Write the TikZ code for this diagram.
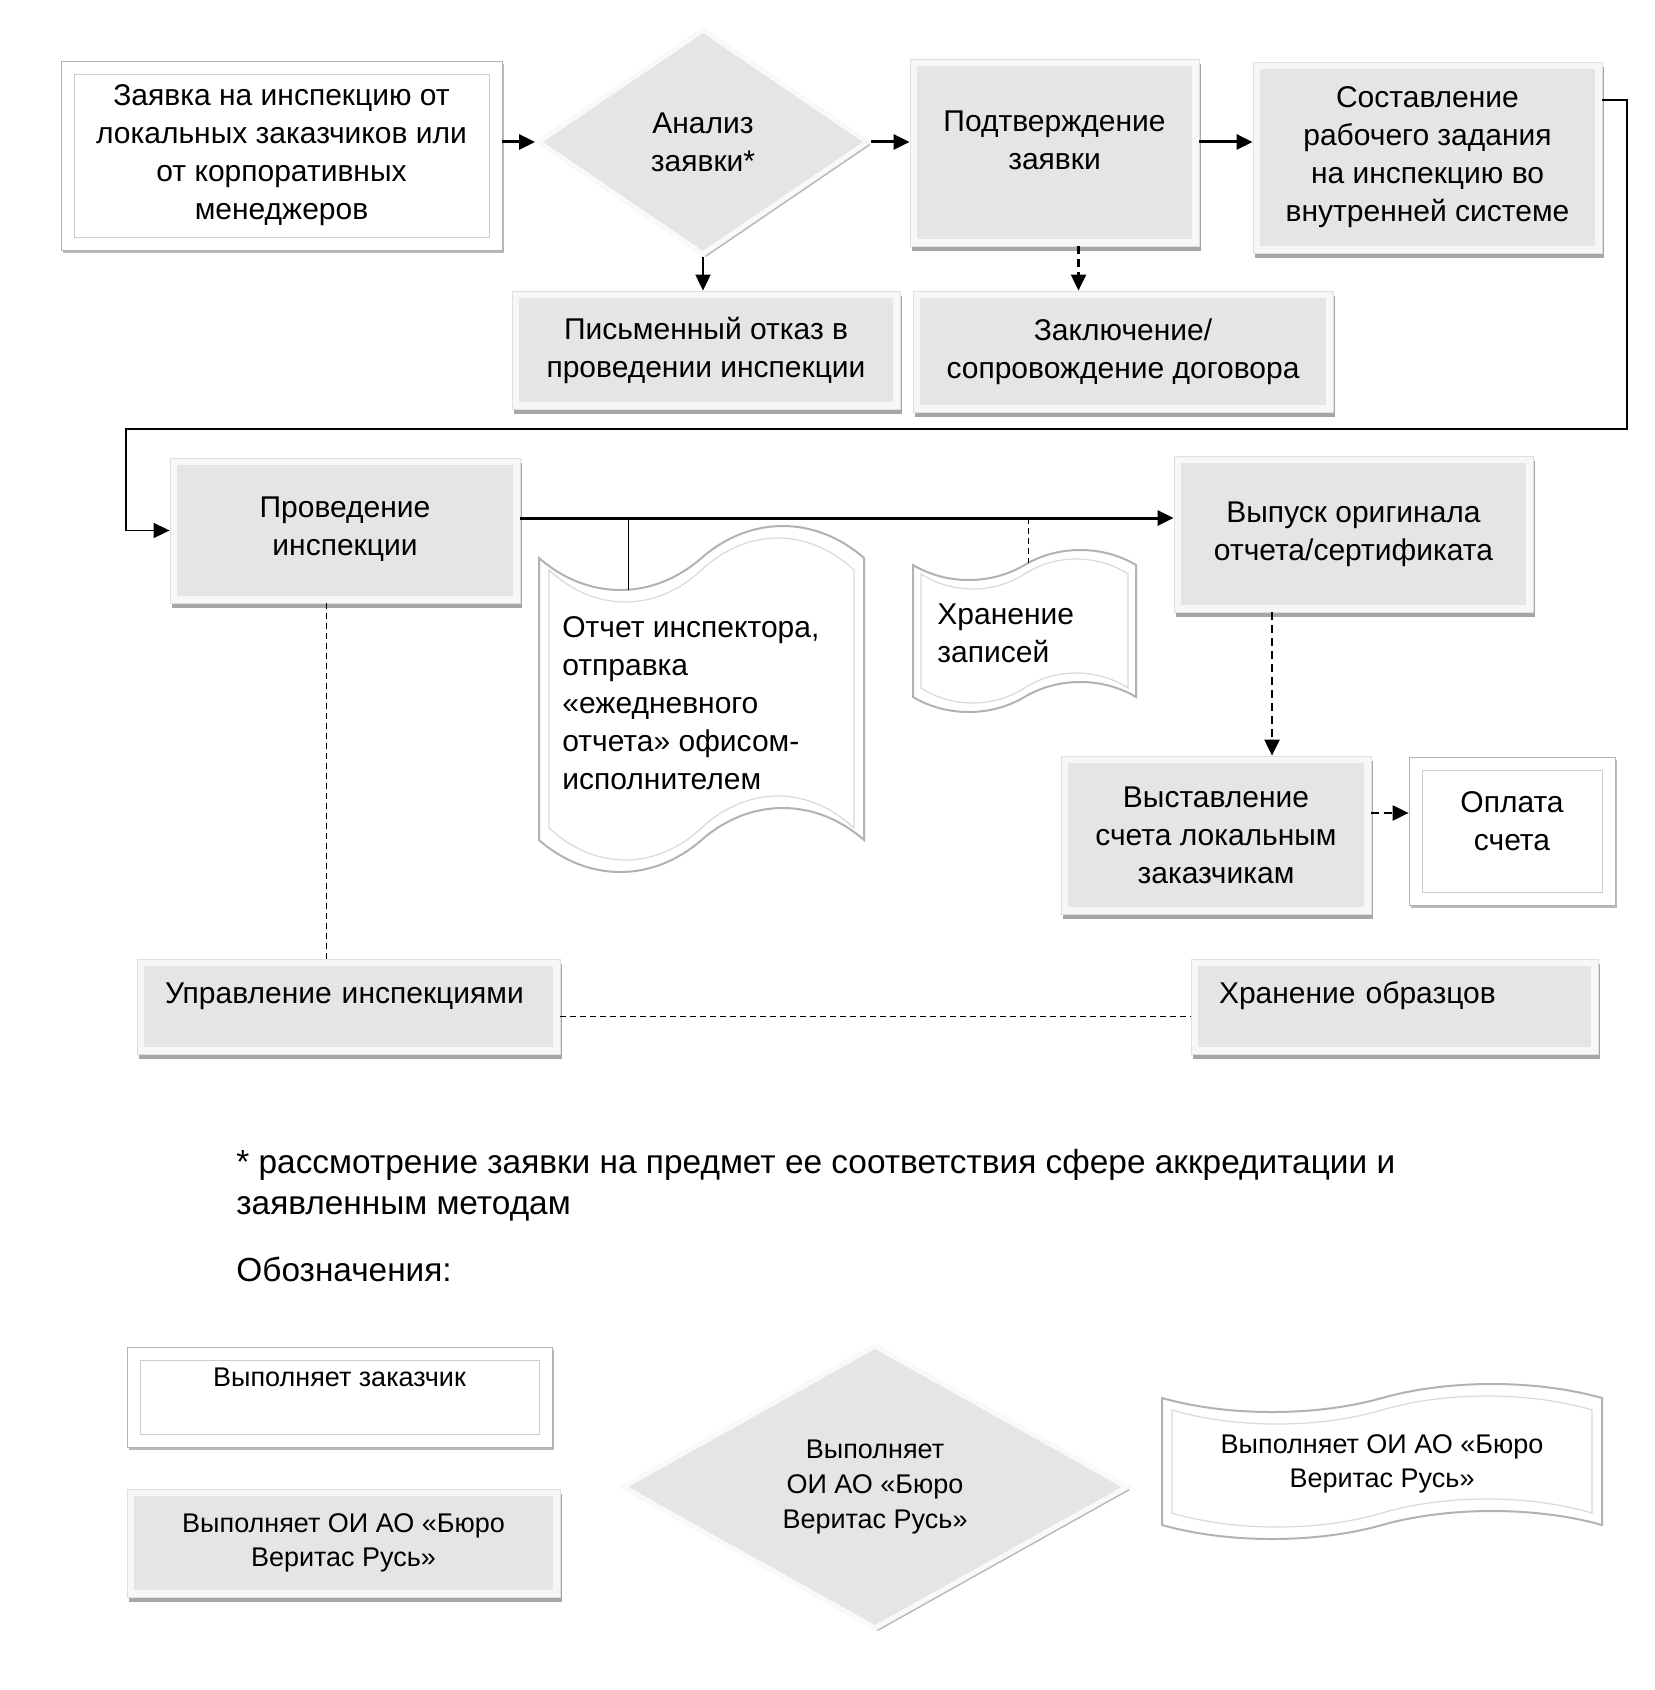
\documentclass[tikz,border=0pt]{standalone}
\usepackage{fontspec}
\setmainfont{Liberation Sans}
\usetikzlibrary{arrows.meta,shapes.geometric,shadows}

% punched tape outline: style, left, top, right, bottom, wave amplitude (px)
\newcommand{\tapeshape}[6]{%
  \pgfmathsetmacro\tpH{((#4)-(#2))/2}%
  \pgfmathsetmacro\tpK{4*(#6)/3}%
  \pgfmathsetmacro\tpM{(#2)+\tpH}%
  \pgfmathsetmacro\tpA{(#2)+0.3*\tpH}%
  \pgfmathsetmacro\tpB{(#2)+0.7*\tpH}%
  \pgfmathsetmacro\tpC{(#2)+1.3*\tpH}%
  \pgfmathsetmacro\tpD{(#2)+1.7*\tpH}%
  \draw[#1] (#2,#3) .. controls (\tpA,#3+\tpK) and (\tpB,#3+\tpK) .. (\tpM,#3)
    .. controls (\tpC,#3-\tpK) and (\tpD,#3-\tpK) .. (#4,#3) -- (#4,#5)
    .. controls (\tpD,#5-\tpK) and (\tpC,#5-\tpK) .. (\tpM,#5)
    .. controls (\tpB,#5+\tpK) and (\tpA,#5+\tpK) .. (#2,#5) -- cycle;}

\begin{document}
\begin{tikzpicture}[x=0.5pt,y=-0.5pt,>={Triangle[length=8pt,width=7.5pt]},
    every node/.style={font=\fontsize{15}{19}\selectfont},
    procbox/.style={draw=gray!25,fill=gray!6,align=center,inner sep=0pt,
      path picture={\fill[gray!20] ([shift={(3.5pt,-3.5pt)}]path picture bounding box.north west)
        rectangle ([shift={(-3.5pt,3.5pt)}]path picture bounding box.south east);},
      drop shadow={shadow xshift=1pt,shadow yshift=-2.5pt,fill=gray!70,opacity=1}},
    custbox/.style={draw=gray!60,fill=white,align=center,inner sep=0pt,
      path picture={\draw[gray!40] ([shift={(6.5pt,-6.5pt)}]path picture bounding box.north west)
        rectangle ([shift={(-6.5pt,6.5pt)}]path picture bounding box.south east);},
      drop shadow={shadow xshift=1pt,shadow yshift=-1.5pt,fill=gray!55,opacity=1}},
    decisionbox/.style={diamond,draw=gray!5,line width=2.5pt,fill=gray!20,align=center,inner sep=0pt,
      drop shadow={shadow xshift=1.5pt,shadow yshift=-1.5pt,fill=gray!55,opacity=1}},
    tapetext/.style={align=left,inner sep=0pt},
    legendfont/.style={font=\fontsize{13.5}{17.3}\selectfont},
    flow/.style={->,line width=1.5pt},
    dflow/.style={->,line width=1.1pt,dash pattern=on 4pt off 2.5pt},
    thindash/.style={line width=0.4pt,dash pattern=on 3pt off 2pt},
    loopline/.style={line width=0.8pt}]
\useasboundingbox (0,0) rectangle (1654,1690);

% top row
\node[custbox,minimum width=220.5pt,minimum height=94.5pt] (request) at (281.5,155.5)
  {Заявка на инспекцию от\\локальных заказчиков или\\от корпоративных\\менеджеров};
\node[decisionbox,minimum width=165.5pt,minimum height=113pt] (analysis) at (703,142) {Анализ\\заявки*};
\node[procbox,minimum width=144.5pt,minimum height=93.5pt,text depth=12pt] (confirm) at (1054.5,152.5) {Подтверждение\\заявки};
\node[procbox,minimum width=174.5pt,minimum height=95.5pt] (compose) at (1427.5,157.5)
  {Составление\\рабочего задания\\на инспекцию во\\внутренней системе};
\node[procbox,minimum width=194pt,minimum height=59pt] (refuse) at (706,350) {Письменный отказ в\\проведении инспекции};
\node[procbox,minimum width=210pt,minimum height=60.5pt] (contract) at (1123,351.5) {Заключение/\\сопровождение договора};

\draw[flow] (request.east |- analysis.west) -- (analysis.west);
\draw[flow] (analysis.east) -- (analysis.east -| confirm.west);
\draw[flow] (analysis.east -| confirm.east) -- (analysis.east -| compose.west);
\draw[->,line width=1pt] (analysis.south) -- (analysis.south |- refuse.north);
\draw[dflow] ([xshift=12pt]confirm.south) -- ([xshift=12pt]confirm.south |- contract.north);

% middle part
\node[procbox,minimum width=175pt,minimum height=72.5pt,text depth=4pt] (inspect) at (345,530.5) {Проведение\\инспекции};
\node[procbox,minimum width=179.5pt,minimum height=78pt] (issue) at (1353.5,534) {Выпуск оригинала\\отчета/сертификата};
\node[procbox,minimum width=155pt,minimum height=79pt] (invoice) at (1216,835) {Выставление\\счета локальным\\заказчикам};
\node[custbox,minimum width=103pt,minimum height=74pt,text depth=10pt] (payment) at (1512,831) {Оплата\\счета};

\coordinate (loopR) at (1627,429);
\coordinate (loopL) at (126,429);
\draw[loopline,->] ([yshift=28.75pt]compose.east) -| (loopR) -- (loopL) |- (inspect.west);
\draw[flow] ([yshift=6.25pt]inspect.east) -- ([yshift=6.25pt]inspect.east -| issue.west);

\tapeshape{fill=white,draw=gray!60,line width=1pt}{539}{558}{864}{840}{32}
\tapeshape{draw=gray!30,line width=0.6pt}{549}{570}{854}{828}{32}
\node[tapetext] (report) at (562,703) [anchor=west]
  {Отчет инспектора,\\отправка\\«ежедневного\\отчета» офисом-\\исполнителем};
\tapeshape{fill=white,draw=gray!60,line width=1pt}{913}{565}{1136}{697}{15}
\tapeshape{draw=gray!30,line width=0.6pt}{921}{574}{1128}{688}{15}
\node[tapetext] (records) at (937,633) [anchor=west] {Хранение\\записей};

\coordinate (tapReport) at (628,518);
\coordinate (reportTop) at (628,590);
\coordinate (tapRecords) at (1028,518);
\coordinate (recordsTop) at (1028,563);
\draw[line width=0.5pt] (tapReport) -- (reportTop);
\draw[thindash] (tapRecords) -- (recordsTop);

\draw[dflow] ([xshift=-40.75pt]issue.south) -- ([xshift=-40.75pt]issue.south |- invoice.north);
\draw[dflow] ([yshift=11pt]invoice.east) -- ([yshift=11pt]invoice.east -| payment.west);

% lower row
\node[procbox,minimum height=47.5pt,text width=183.5pt,inner xsep=14pt,align=left,text height=10pt,text depth=13pt]
  (manage) at (348.5,1006.5) {Управление инспекциями};
\node[procbox,minimum height=47.5pt,text width=175.5pt,inner xsep=14pt,align=left,text height=10pt,text depth=13pt]
  (samples) at (1394.5,1006.5) {Хранение образцов};
\draw[thindash] ([xshift=-9.5pt]inspect.south) -- ([xshift=-9.5pt]inspect.south |- manage.north);
\draw[thindash] ([yshift=-4.75pt]manage.east) -- ([yshift=-4.75pt]manage.east -| samples.west);

% footnote and legend
\node[align=left,inner sep=0pt,anchor=west,font=\fontsize{16.7}{20.5}\selectfont] (footnote) at (236,1185.5)
  {* рассмотрение заявки на предмет ее соответствия сфере аккредитации и\\заявленным методам};
\node[inner sep=0pt,anchor=west,font=\fontsize{16.7}{20.5}\selectfont] (legendtitle) at (236,1269) {Обозначения:};

\node[custbox,legendfont,minimum width=212.5pt,minimum height=50pt,text height=9pt,text depth=20pt]
  (legCustomer) at (339.5,1397) {Выполняет заказчик};
\node[procbox,legendfont,minimum width=216.5pt,minimum height=54pt] (legOffice) at (343.5,1543)
  {Выполняет ОИ АО «Бюро\\Веритас Русь»};
\node[decisionbox,legendfont,minimum width=253pt,minimum height=142pt] (legDecision) at (875,1487)
  {Выполняет\\ОИ АО «Бюро\\Веритас Русь»};
\tapeshape{fill=white,draw=gray!60,line width=1pt}{1162}{1398}{1602}{1525}{14}
\tapeshape{draw=gray!30,line width=0.6pt}{1172}{1410}{1592}{1513}{14}
\node[legendfont,align=center,inner sep=0pt] (legTape) at (1382,1464) {Выполняет ОИ АО «Бюро\\Веритас Русь»};
\end{tikzpicture}
\end{document}
